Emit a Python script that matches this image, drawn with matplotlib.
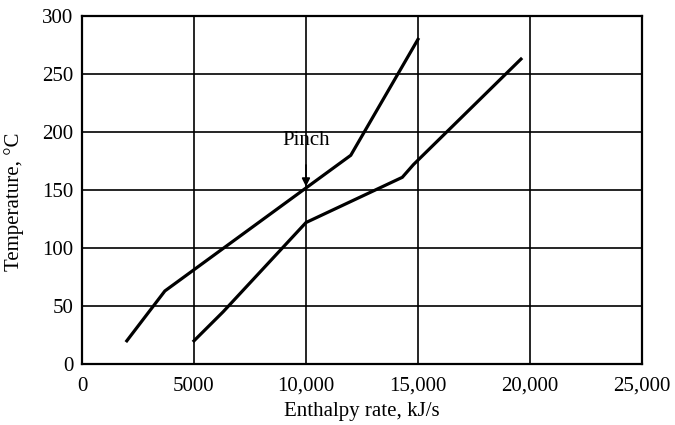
import matplotlib
matplotlib.use('Agg')
import matplotlib.pyplot as plt

# Composite curves
hot_h = [2000, 3700, 12000, 15000]
hot_t = [20, 63, 180, 280]

cold_h = [5000, 6300, 10000, 14300, 14800, 19600]
cold_t = [20, 45, 122, 161, 172, 263]

x_ticks = [0, 5000, 10000, 15000, 20000, 25000]
x_labels = ['0', '5000', '10,000', '15,000', '20,000', '25,000']
y_ticks = [0, 50, 100, 150, 200, 250, 300]

pinch_h = 10000
pinch_t = 153

plt.rcParams['font.family'] = ['Liberation Serif', 'DejaVu Serif']

fig = plt.figure(figsize=(6.75, 4.25), dpi=100)
ax = fig.add_axes([0.1215, 0.1435, 0.8295, 0.8185])

ax.plot(hot_h, hot_t, color='black', lw=2.3, solid_joinstyle='miter')
ax.plot(cold_h, cold_t, color='black', lw=2.3, solid_joinstyle='miter')

ax.set_xlim(0, 25000)
ax.set_ylim(0, 300)
ax.set_xticks(x_ticks)
ax.set_xticklabels(x_labels)
ax.set_yticks(y_ticks)
ax.tick_params(length=0, labelsize=15)
ax.tick_params(axis='x', pad=9)
ax.tick_params(axis='y', pad=6)
ax.grid(True, color='black', lw=1.2)
for s in ax.spines.values():
    s.set_linewidth(1.6)

ax.annotate('Pinch', xy=(pinch_h, pinch_t), xytext=(pinch_h, 193),
            ha='center', va='center', fontsize=15,
            arrowprops=dict(arrowstyle='-|>', color='black', lw=1.2,
                            shrinkA=9, shrinkB=0, mutation_scale=12))

ax.set_xlabel('Enthalpy rate, kJ/s', fontsize=15, labelpad=5)
ax.set_ylabel('Temperature, \u00b0C', fontsize=15)
ax.yaxis.set_label_coords(-0.103, 0.465)

fig.savefig('out.png', dpi=100)
